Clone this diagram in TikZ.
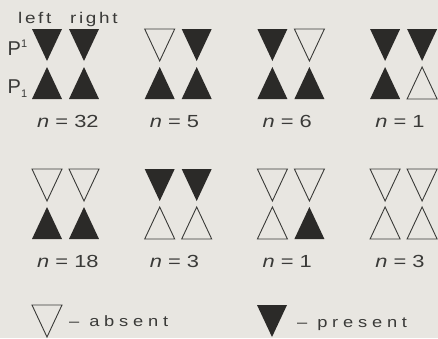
\documentclass[tikz,border=0pt]{standalone}
\usepackage{fontspec}
\setmainfont{Liberation Sans}
\newfontfamily\widesans[FakeStretch=1.25]{Liberation Sans}
\newfontfamily\headsans[FakeStretch=1.22,LetterSpace=17]{Liberation Sans}
\newfontfamily\keysans[FakeStretch=1.22,LetterSpace=32]{Liberation Sans}
\definecolor{paper}{HTML}{E8E6E1}
\definecolor{ink}{HTML}{2B2A28}
\definecolor{print}{HTML}{3A3A38}

\begin{document}
\begin{tikzpicture}[
  x=1pt, y=-1pt,
  present/.style={fill=ink},
  absent/.style={draw=print, line width=0.9pt},
  lbl/.style={inner sep=0pt, anchor=base west, text=print},
  head/.style={lbl, font=\headsans\fontsize{15.5}{15.5}\selectfont},
  count/.style={lbl, font=\widesans\fontsize{17.5}{17.5}\selectfont},
  key/.style={lbl, font=\keysans\fontsize{15}{15}\selectfont}
]
\fill[paper] (0,0) rectangle (438,338);
\useasboundingbox (0,0) rectangle (438,338);

% column heads and row labels
\node[head] (left) at (18,23) {left};
\node[head] (right) at (70,23) {right};
\node[lbl, font=\fontsize{20}{20}\selectfont] (pup) at (7.5,55)
  {P\raisebox{8pt}{\fontsize{11}{11}\selectfont 1}};
\node[lbl, font=\fontsize{20}{20}\selectfont] (plow) at (7.5,93)
  {P\raisebox{-4pt}{\fontsize{11}{11}\selectfont 1}};

% groups: P1 left/right (down), P_1 left/right (up)
\foreach \gx/\gy/\tl/\tr/\bl/\br/\num [count=\k] in {
  32/29/present/present/present/present/32,
  144.7/29/absent/present/present/present/5,
  257.4/29/present/absent/present/present/6,
  370.1/29/present/present/present/absent/1,
  32/169/absent/absent/present/present/18,
  144.7/169/present/present/absent/absent/3,
  257.4/169/absent/absent/absent/present/1,
  370.1/169/absent/absent/absent/absent/3}
{
  \path[\tl] (\gx,\gy) -- ++(30,0) -- ++(-15,32) -- cycle;
  \path[\tr] (\gx+37,\gy) -- ++(30,0) -- ++(-15,32) -- cycle;
  \path[\bl] (\gx+15,\gy+38) -- ++(15,32) -- ++(-30,0) -- cycle;
  \path[\br] (\gx+52,\gy+38) -- ++(15,32) -- ++(-30,0) -- cycle;
  \node[count] (count\k) at (\gx+5,\gy+98) {\textit{n} = \num};
}

% key
\path[absent] (32,305) -- ++(30,0) -- ++(-15,32) -- cycle;
\node[key] (keyabsent) at (69,326) {– absent};
\path[present] (257,305) -- ++(30,0) -- ++(-15,32) -- cycle;
\node[key] (keypresent) at (297,327) {– present};
\end{tikzpicture}
\end{document}
